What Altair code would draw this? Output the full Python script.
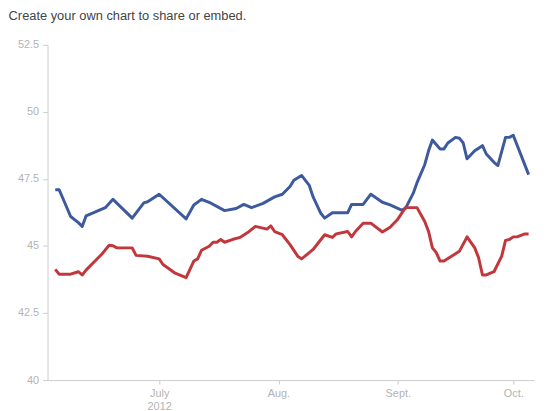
import altair as alt
import pandas as pd

# Obama (blue) poll average
obama_dates = [
    "2012-06-04", "2012-06-05", "2012-06-06", "2012-06-08", "2012-06-10", "2012-06-11",
    "2012-06-12", "2012-06-14", "2012-06-17", "2012-06-19", "2012-06-21", "2012-06-24",
    "2012-06-27", "2012-06-28", "2012-07-01", "2012-07-08", "2012-07-10", "2012-07-12",
    "2012-07-14", "2012-07-18", "2012-07-21", "2012-07-23", "2012-07-25", "2012-07-28",
    "2012-07-31", "2012-08-02", "2012-08-04", "2012-08-05", "2012-08-07", "2012-08-09",
    "2012-08-10", "2012-08-12", "2012-08-13", "2012-08-15", "2012-08-19", "2012-08-20",
    "2012-08-23", "2012-08-25", "2012-08-28", "2012-08-30", "2012-09-02", "2012-09-03",
    "2012-09-05", "2012-09-06", "2012-09-08", "2012-09-09", "2012-09-10", "2012-09-11",
    "2012-09-12", "2012-09-13", "2012-09-14", "2012-09-16", "2012-09-17", "2012-09-18",
    "2012-09-19", "2012-09-21", "2012-09-23", "2012-09-24", "2012-09-26", "2012-09-27",
    "2012-09-29", "2012-09-30", "2012-10-01", "2012-10-05",
]
obama_values = [
    47.1, 47.1, 46.77, 46.1, 45.87, 45.73,
    46.12, 46.24, 46.43, 46.74, 46.46, 46.04,
    46.61, 46.65, 46.93, 46.01, 46.53, 46.74,
    46.63, 46.32, 46.40, 46.55, 46.43, 46.59,
    46.83, 46.93, 47.22, 47.45, 47.63, 47.26,
    46.83, 46.22, 46.04, 46.24, 46.24, 46.55,
    46.55, 46.93, 46.63, 46.53, 46.34, 46.40,
    46.96, 47.36, 48.03, 48.55, 48.95, 48.78,
    48.62, 48.62, 48.84, 49.05, 49.02, 48.84,
    48.25, 48.55, 48.74, 48.43, 48.12, 48.0,
    49.05, 49.05, 49.13, 47.66,
]

# Romney (red) poll average
romney_dates = [
    "2012-06-04", "2012-06-05", "2012-06-08", "2012-06-10", "2012-06-11", "2012-06-12",
    "2012-06-16", "2012-06-18", "2012-06-19", "2012-06-20", "2012-06-24", "2012-06-25",
    "2012-06-28", "2012-07-01", "2012-07-02", "2012-07-05", "2012-07-08", "2012-07-10",
    "2012-07-11", "2012-07-12", "2012-07-14", "2012-07-15", "2012-07-16", "2012-07-17",
    "2012-07-18", "2012-07-20", "2012-07-22", "2012-07-24", "2012-07-26", "2012-07-29",
    "2012-07-30", "2012-07-31", "2012-08-02", "2012-08-04", "2012-08-06", "2012-08-07",
    "2012-08-09", "2012-08-10", "2012-08-13", "2012-08-15", "2012-08-16", "2012-08-19",
    "2012-08-20", "2012-08-21", "2012-08-23", "2012-08-25", "2012-08-28", "2012-08-30",
    "2012-09-01", "2012-09-03", "2012-09-06", "2012-09-08", "2012-09-09", "2012-09-10",
    "2012-09-11", "2012-09-12", "2012-09-13", "2012-09-17", "2012-09-19", "2012-09-21",
    "2012-09-22", "2012-09-23", "2012-09-24", "2012-09-26", "2012-09-28", "2012-09-29",
    "2012-09-30", "2012-10-01", "2012-10-02", "2012-10-04", "2012-10-05",
]
romney_values = [
    44.13, 43.95, 43.95, 44.04, 43.92, 44.1,
    44.68, 45.03, 45.01, 44.93, 44.93, 44.65,
    44.62, 44.52, 44.31, 44.0, 43.82, 44.44,
    44.52, 44.84, 44.99, 45.14, 45.14, 45.24,
    45.14, 45.24, 45.32, 45.5, 45.73, 45.63,
    45.75, 45.54, 45.42, 45.05, 44.62, 44.52,
    44.75, 44.87, 45.42, 45.32, 45.45, 45.54,
    45.34, 45.54, 45.85, 45.85, 45.52, 45.70,
    46.0, 46.43, 46.43, 45.91, 45.54, 44.93,
    44.75, 44.44, 44.44, 44.8, 45.34, 44.93,
    44.56, 43.92, 43.92, 44.04, 44.62, 45.21,
    45.24, 45.34, 45.34, 45.45, 45.45,
]

y_ticks = [40, 42.5, 45, 47.5, 50, 52.5]

df = pd.concat([
    pd.DataFrame({"date": obama_dates, "value": obama_values, "series": "Obama"}),
    pd.DataFrame({"date": romney_dates, "value": romney_values, "series": "Romney"}),
])

FONT = "Liberation Sans"
BLUE = "#3d5a9e"
RED = "#c1373c"
AXIS_GRAY = "#cccccc"
LABEL_GRAY = "#b3b3b3"

month_ticks = [alt.DateTime(year=2012, month=m, date=1, utc=True) for m in (7, 8, 9, 10)]

chart = alt.Chart(df).mark_line(strokeWidth=3, strokeJoin="round").encode(
    x=alt.X(
        "date:T",
        scale=alt.Scale(
            type="utc",
            domain=[
                alt.DateTime(year=2012, month=6, date=2, utc=True),
                alt.DateTime(year=2012, month=10, date=6, hours=10, utc=True),
            ],
        ),
        axis=alt.Axis(
            values=month_ticks,
            labelExpr="utcmonth(datum.value) == 6 ? ['July', '2012'] : utcmonth(datum.value) == 7 ? 'Aug.' : utcmonth(datum.value) == 8 ? 'Sept.' : 'Oct.'",
            title=None,
            grid=False,
            tickSize=4,
            labelPadding=4,
            labelLineHeight=13,
            labelFontSize=11,
            labelFont=FONT,
            labelColor=LABEL_GRAY,
            domainColor=AXIS_GRAY,
            tickColor=AXIS_GRAY,
        ),
    ),
    y=alt.Y(
        "value:Q",
        scale=alt.Scale(domain=[40, 52.5], nice=False, zero=False),
        axis=alt.Axis(
            values=y_ticks,
            labelExpr="datum.value + ''",
            title=None,
            grid=False,
            tickSize=5,
            labelPadding=4,
            labelFontSize=11,
            labelFont=FONT,
            labelColor=LABEL_GRAY,
            domainColor=AXIS_GRAY,
            tickColor=AXIS_GRAY,
        ),
    ),
    color=alt.Color(
        "series:N",
        scale=alt.Scale(domain=["Obama", "Romney"], range=[BLUE, RED]),
        legend=None,
    ),
    detail="series:N",
).properties(
    width=492,
    height=339,
    background="white",
    autosize=alt.AutoSizeParams(type="none"),
    padding={"left": 40, "top": 35, "right": 8, "bottom": 29},
    title=alt.TitleParams(
        "Create your own chart to share or embed.",
        anchor="start",
        frame="bounds",
        fontSize=13,
        fontWeight="normal",
        color="#444444",
        font=FONT,
        dx=-9,
        dy=-12,
    ),
).configure_view(stroke=None)

chart.save("out.html", embed_options={"renderer": "svg", "actions": False})
